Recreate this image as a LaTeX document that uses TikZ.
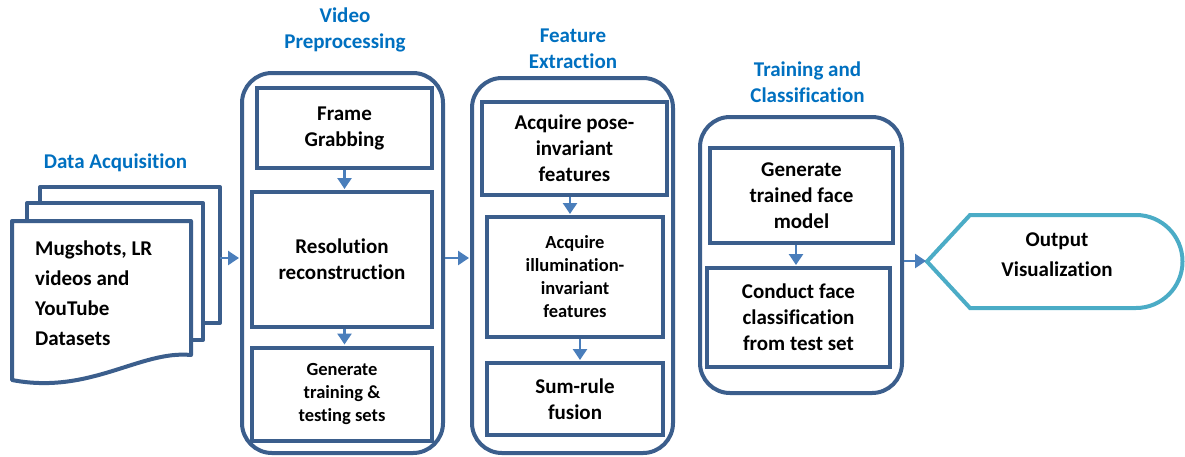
\documentclass[tikz,border=0pt]{standalone}
\usepackage{fontspec}
\setmainfont{Carlito}[Ligatures={NoCommon}]
\usetikzlibrary{arrows.meta,calc}
\definecolor{boxc}{HTML}{3B5E8C}
\definecolor{arrc}{HTML}{4A7EBB}
\definecolor{outc}{HTML}{4BACC6}
\definecolor{titc}{HTML}{0070C0}
\begin{document}
\begin{tikzpicture}[x=1pt,y=-1pt,
  container/.style={draw=boxc, line width=4pt, rounded corners=30pt, fill=white, inner sep=0pt},
  stepbox/.style={draw=boxc, line width=4pt, fill=white, align=center, inner sep=0pt,
    font=\bfseries\fontsize{21}{26}\selectfont},
  small/.style={font=\bfseries\fontsize{18.5}{23}\selectfont},
  title/.style={text=titc, align=center, font=\bfseries\fontsize{21}{26}\selectfont},
  page/.style={draw=boxc, line width=4pt, fill=white, line join=round},
  arr/.style={draw=arrc, line width=2.5pt, shorten >=1pt, -{Triangle[width=14pt,length=11pt]}}]
\useasboundingbox (0,0) rectangle (1185,456);

% ---- Data acquisition (document stack)
\node[title] (t1) at (115.5,163) {Data Acquisition};
\draw[page] (40,187) rectangle (220,323);
\draw[page] (27,203) rectangle (203,340);
\draw[page] (12,221) -- (191,221) -- (191,355) .. controls (140,350) and (90,395) .. (12,380) -- cycle;
\node[anchor=west, align=left, inner sep=0pt, font=\bfseries\fontsize{21}{30}\selectfont] (data) at (35,293)
  {Mugshots, LR\\videos and\\YouTube\\Datasets};
\coordinate (docr) at (220,258);

% ---- Video preprocessing
\node[title] (t2) at (345,30) {Video\\Preprocessing};
\node[container, minimum width=201, minimum height=380] (vp) at (342.5,263) {};
\node[stepbox, minimum width=175, minimum height=80] (fg) at (344.5,128) {Frame\\Grabbing};
\node[stepbox, minimum width=180, minimum height=135] (rr) at (342,259.5) {Resolution\\reconstruction};
\node[stepbox, small, minimum width=180, minimum height=93] (gt) at (342,394) {Generate\\training \&\\testing sets};
\draw[arr] (fg.south) -- (fg.south |- rr.north);
\draw[arr] (fg.south |- rr.south) -- (fg.south |- gt.north);

% ---- Feature extraction
\node[title] (t3) at (573,48.5) {Feature\\Extraction};
\node[container, minimum width=201, minimum height=375] (fe) at (572.5,265.5) {};
\node[stepbox, minimum width=185, minimum height=93] (pose) at (574.5,148.5) {Acquire pose-\\invariant\\features};
\node[stepbox, small, minimum width=176, minimum height=120] (il) at (575,277) {Acquire\\illumination-\\invariant\\features};
\node[stepbox, minimum width=176, minimum height=72] (sr) at (575,399) {Sum-rule\\fusion};
\draw[arr] ([xshift=-4.5pt]pose.south) -- ([xshift=-4.5pt]pose.south |- il.north);
\draw[arr] ([xshift=5pt]il.south) -- ([xshift=5pt]il.south |- sr.north);

% ---- Training and classification
\node[title] (t4) at (807.5,82.5) {Training and\\Classification};
\node[container, minimum width=202, minimum height=276] (tc) at (801,255) {};
\node[stepbox, minimum width=183, minimum height=95] (gm) at (801.5,195.5) {Generate\\trained face\\model};
\node[stepbox, minimum width=183, minimum height=99] (cf) at (798.5,317.5) {Conduct face\\classification\\from test set};
\draw[arr] ([xshift=-5.5pt]gm.south) -- ([xshift=-5.5pt]gm.south |- cf.north);

% ---- Output
\draw[draw=outc, line width=4pt, fill=white, line join=miter]
  (927,261.5) -- (970,215) -- (1136,215) arc[start angle=-90, end angle=90, radius=46.5] -- (970,308) -- cycle;
\node[align=center, inner sep=0pt, font=\bfseries\fontsize{21}{30}\selectfont] (out) at (1057,255) {Output\\Visualization};
\coordinate (outtip) at (927,261);

% ---- Connectors between stages
\draw[arr] (docr) -- (vp.west |- docr);
\draw[arr] (vp.east |- docr) -- (fe.west |- docr);
\draw[arr] (tc.east |- outtip) -- (outtip);
\end{tikzpicture}
\end{document}
